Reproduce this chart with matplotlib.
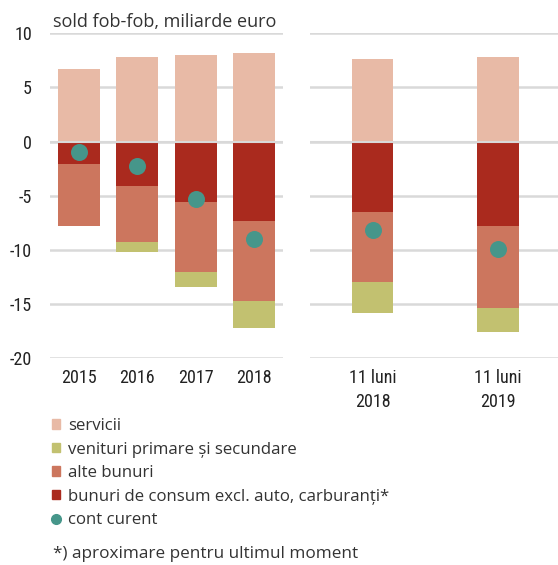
import matplotlib
matplotlib.use("Agg")
import matplotlib.pyplot as plt
from matplotlib.patches import Patch
from matplotlib.lines import Line2D
import numpy as np

# ---- data ----
left_labels = ["2015", "2016", "2017", "2018"]
right_labels = ["11 luni\n2018", "11 luni\n2019"]

servicii_l = [6.7, 7.8, 8.0, 8.2]
consum_l = [-2.1, -4.1, -5.6, -7.3]
alte_l = [-5.7, -5.2, -6.5, -7.4]
venituri_l = [0.0, -0.9, -1.3, -2.55]
cont_l = [-1.0, -2.3, -5.3, -9.0]

servicii_r = [7.6, 7.8]
consum_r = [-6.5, -7.8]
alte_r = [-6.5, -7.6]
venituri_r = [-2.8, -2.2]
cont_r = [-8.2, -9.9]

yticks = [-20, -15, -10, -5, 0, 5, 10]

# ---- style ----
C_SERV = "#E8BAA6"
C_VEN = "#C2C170"
C_ALTE = "#CC765E"
C_CONS = "#AA2A1E"
C_DOT = "#46968A"
C_GRID = "#D9D9D9"
TXT = "#222222"
FONT = ["Open Sans", "DejaVu Sans"]
TICKFONT = ["Liberation Sans Narrow", "Roboto Condensed", "DejaVu Sans"]

plt.rcParams["font.family"] = FONT
plt.rcParams["axes.unicode_minus"] = False

fig = plt.figure(figsize=(5.58, 5.65), dpi=100)
bottom = 1 - 358 / 565
top = 1 - 33.3 / 565
axL = fig.add_axes([50 / 558, bottom, (283 - 50) / 558, top - bottom])
axR = fig.add_axes([310 / 558, bottom, (558 - 310) / 558, top - bottom])


def draw(ax, labels, serv, cons, alte, ven, cont, width):
    x = np.arange(len(labels))
    cons = np.array(cons)
    alte = np.array(alte)
    ven = np.array(ven)
    ax.bar(x, serv, width, color=C_SERV, zorder=2)
    ax.bar(x, cons, width, color=C_CONS, zorder=2)
    ax.bar(x, alte, width, bottom=cons, color=C_ALTE, zorder=2)
    ax.bar(x, ven, width, bottom=cons + alte, color=C_VEN, zorder=2)
    ax.scatter(x, cont, s=150, color=C_DOT, zorder=4, linewidths=0)
    ax.axhline(0, color=C_GRID, lw=1.5, zorder=3)
    ax.set_ylim(-20, 10)
    ax.set_yticks(yticks)
    ax.yaxis.grid(True, color=C_GRID, lw=1.8, zorder=0)
    ax.set_axisbelow(True)
    for s in ax.spines.values():
        s.set_visible(False)
    ax.set_xticks(x)
    ax.set_xticklabels(labels, family=TICKFONT, fontsize=13, color=TXT,
                       linespacing=1.4)
    ax.tick_params(axis="both", length=0, pad=8)
    ax.set_xlim(-0.5, len(labels) - 0.5)


draw(axL, left_labels, servicii_l, consum_l, alte_l, venituri_l, cont_l, 0.72)
draw(axR, right_labels, servicii_r, consum_r, alte_r, venituri_r, cont_r, 0.33)
axR.set_xlim(-0.5, 1.48)

for lab in axL.get_yticklabels():
    lab.set_family(TICKFONT)
    lab.set_fontsize(13)
    lab.set_color(TXT)
axL.tick_params(axis="y", pad=13)
axR.tick_params(axis="y", labelleft=False)

fig.text(53 / 558, 1 - 22 / 565, "sold fob-fob, miliarde euro", fontsize=13,
         color="#333333", va="center", ha="left")

handles = [
    Patch(color=C_SERV),
    Patch(color=C_VEN),
    Patch(color=C_ALTE),
    Patch(color=C_CONS),
    Line2D([], [], marker="o", ls="", color=C_DOT, markersize=7),
]
labels = ["servicii", "venituri primare și secundare", "alte bunuri",
          "bunuri de consum excl. auto, carburanți*", "cont curent"]
fig.legend(handles, labels, loc="upper left",
           bbox_to_anchor=(52 / 558, 1 - 418 / 565), frameon=False,
           fontsize=12.1, handlelength=0.48, handleheight=0.48,
           handletextpad=0.45, labelspacing=0.45, labelcolor="#333333",
           borderpad=0, borderaxespad=0)

fig.text(53 / 558, 1 - 554 / 565, "*) aproximare pentru ultimul moment",
         fontsize=12.3, color="#333333", va="center", ha="left")

fig.savefig("out.png", dpi=100)
